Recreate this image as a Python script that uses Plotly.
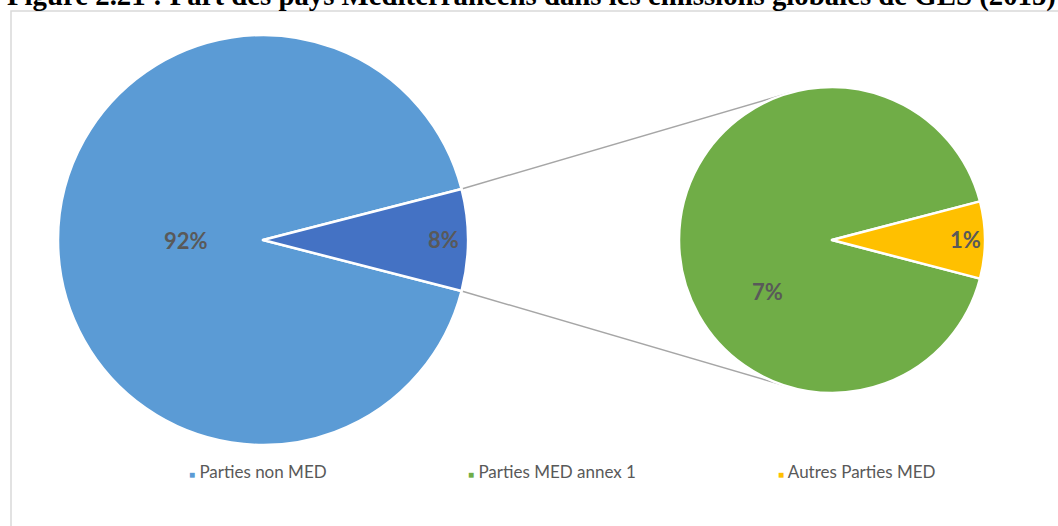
import math
import plotly.graph_objects as go

# ---- data -------------------------------------------------------------
main_labels = ["Parties non MED", "Parties MED"]
main_values = [92.0, 8.0]

med_labels = ["Parties MED annex 1", "Autres Parties MED"]
med_values = [7.35, 0.65]

legend_labels = ["Parties non MED", "Parties MED annex 1", "Autres Parties MED"]

title_text = ("Figure 2.21 : Part des pays Méditerranéens dans les émissions "
              "globales de GES (2015)")

# ---- style ------------------------------------------------------------
W, H = 1058, 526
main_colors = ["#5B9BD5", "#4472C4"]
med_colors = ["#70AD47", "#FFC000"]
legend_colors = ["#5B9BD5", "#70AD47", "#FFC000"]
label_color = "#595959"
label_font = "Lato"

# pie geometry in pixels: centre x, centre y, radius
C1 = (263.0, 240.0, 205.0)
C2 = (832.0, 240.0, 153.0)

# data-label placement per slice: (radial fraction, extra angle in degrees, clockwise)
main_label_place = [(0.375, 0.0), (0.88, 0.0)]
med_label_place = [(0.54, -38.7), (0.875, 0.0)]


def px(x):
    return x / W


def py(y):
    return 1 - y / H


def domain(c):
    cx, cy, r = c
    return dict(x=[px(cx - r), px(cx + r)], y=[py(cy + r), py(cy - r)])


other_share = main_values[1] / sum(main_values)
autres_share = med_values[1] / sum(med_values)

fig = go.Figure()

fig.add_trace(go.Pie(
    labels=main_labels, values=main_values, sort=False,
    direction="clockwise", rotation=90 + other_share * 180,
    domain=domain(C1),
    marker=dict(colors=main_colors, line=dict(color="white", width=2.5)),
    textinfo="none", showlegend=False, hoverinfo="label+percent",
))

fig.add_trace(go.Pie(
    labels=med_labels, values=med_values, sort=False,
    direction="clockwise", rotation=90 + autres_share * 180,
    domain=domain(C2),
    marker=dict(colors=med_colors, line=dict(color="white", width=2.5)),
    textinfo="none", showlegend=False, hoverinfo="label+value",
))

annotations = []


def slice_labels(values, rotation, centre, places, total_for_pct):
    """Percentage labels placed along each slice's direction (screen coords)."""
    cx, cy, r = centre
    tot = sum(values)
    start = rotation  # degrees clockwise from 12 o'clock
    for v, (frac, extra) in zip(values, places):
        sweep = v / tot * 360
        mid = start + sweep / 2 + extra
        ang = math.radians(mid)
        x = cx + frac * r * math.sin(ang)
        y = cy - frac * r * math.cos(ang)
        annotations.append(dict(
            text=f"<b>{v / total_for_pct * 100:.0f}%</b>",
            xref="paper", yref="paper", x=px(x), y=py(y),
            xanchor="center", yanchor="middle", showarrow=False,
            font=dict(family=label_font, size=22, color=label_color),
        ))
        start += sweep


total = sum(main_values)
slice_labels(main_values, 90 + other_share * 180, C1, main_label_place, total)
slice_labels(med_values, 90 + autres_share * 180, C2, med_label_place, total)

# connector lines from the edges of the combined slice to the tangents of the second pie
half = other_share * math.pi
cx1, cy1, r1 = C1
cx2, cy2, r2 = C2
shapes = []
for sgn in (-1, 1):
    sx = cx1 + r1 * math.cos(half)
    sy = cy1 + sgn * r1 * math.sin(half)
    dx, dy = sx - cx2, sy - cy2
    d = math.hypot(dx, dy)
    base = math.atan2(dy, dx)
    a = math.acos(r2 / d)
    pts = [(cx2 + r2 * math.cos(t), cy2 + r2 * math.sin(t)) for t in (base + a, base - a)]
    ex, ey = min(pts, key=lambda p: p[1]) if sgn < 0 else max(pts, key=lambda p: p[1])
    shapes.append(dict(type="line", xref="paper", yref="paper", layer="below",
                       x0=px(sx), y0=py(sy), x1=px(ex), y1=py(ey),
                       line=dict(color="#A6A6A6", width=1.5)))

# chart frame
shapes.append(dict(type="rect", xref="paper", yref="paper", layer="below",
                   x0=px(11), y0=py(560), x1=px(1100), y1=py(11),
                   line=dict(color="#D9D9D9", width=1.5), fillcolor="rgba(0,0,0,0)"))

annotations.append(dict(
    text=f"<b>{title_text}</b>", xref="paper", yref="paper",
    x=px(1058), y=py(14), xanchor="right", yanchor="bottom", showarrow=False,
    font=dict(family="Liberation Serif", size=28.8, color="black"),
))

legend_x = [187, 466, 776]
for lab, col, x in zip(legend_labels, legend_colors, legend_x):
    annotations.append(dict(
        text=f"<span style='color:{col};font-size:10px'>■</span> {lab}",
        xref="paper", yref="paper", x=px(x), y=py(471),
        xanchor="left", yanchor="middle", showarrow=False,
        font=dict(family=label_font, size=17, color=label_color),
    ))

fig.update_layout(
    width=W, height=H, autosize=False,
    margin=dict(l=0, r=0, t=0, b=0),
    paper_bgcolor="white", plot_bgcolor="white",
    shapes=shapes, annotations=annotations,
)

fig.write_html("out.html")
